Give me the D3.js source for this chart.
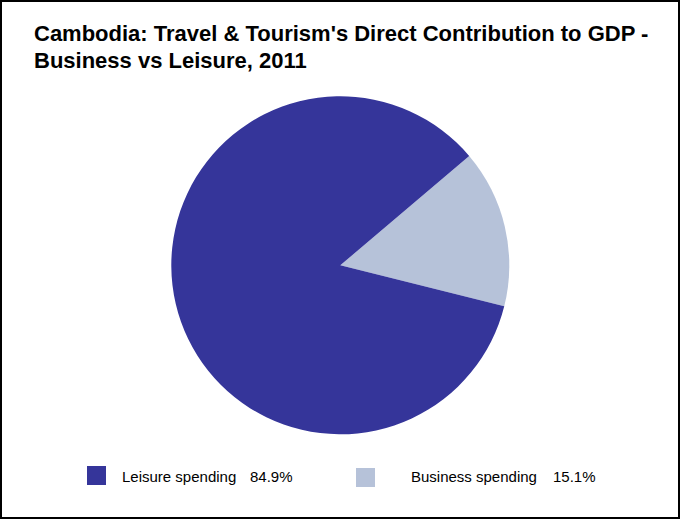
<!DOCTYPE html>
<html>
<head>
<meta charset="utf-8">
<script src="https://cdn.jsdelivr.net/npm/d3@7/dist/d3.min.js"></script>
<style>
  html, body { margin: 0; padding: 0; background: #fff; }
  svg { display: block; }
</style>
</head>
<body>
<svg id="chart" width="681" height="520"></svg>
<script>
// Spending split of the direct contribution, 2011 (%)
const categories = ["Business spending", "Leisure spending"];
const shares = [15.1, 84.9];
const colors = ["#b6c2d9", "#35359a"];
const legendOrder = ["Leisure spending", "Business spending"];
const titleLines = [
  "Cambodia: Travel & Tourism's Direct Contribution to GDP -",
  "Business vs Leisure, 2011"
];

const W = 681, H = 520;
const FONT = "Liberation Sans, Arial, sans-serif";
const svg = d3.select("#chart");

// frame
svg.append("rect")
  .attr("x", 1).attr("y", 1)
  .attr("width", W - 3).attr("height", H - 3)
  .attr("fill", "#fff")
  .attr("stroke", "#000")
  .attr("stroke-width", 2);

// title
svg.append("g").selectAll("text")
  .data(titleLines)
  .join("text")
  .attr("x", 34)
  .attr("y", (d, i) => 41 + i * 27)
  .attr("font-family", FONT)
  .attr("font-size", 22)
  .attr("font-weight", "bold")
  .attr("fill", "#000")
  .text(d => d);

// pie
const cx = 340.3, cy = 265.3, r = 169;
const start = 49.7 * Math.PI / 180;
const data = categories.map((c, i) => ({ name: c, value: shares[i], color: colors[i] }));
const pie = d3.pie().sort(null).value(d => d.value)
  .startAngle(start).endAngle(start + 2 * Math.PI);
const arc = d3.arc().innerRadius(0).outerRadius(r);

svg.append("g")
  .attr("transform", `translate(${cx},${cy})`)
  .selectAll("path")
  .data(pie(data))
  .join("path")
  .attr("d", arc)
  .attr("fill", d => d.data.color);

// legend
const swatchX = d3.scaleOrdinal().domain(legendOrder).range([87, 356]);
const swatchY = d3.scaleOrdinal().domain(legendOrder).range([466, 468]);
const labelX = d3.scaleOrdinal().domain(legendOrder).range([122, 411]);
const valueX = d3.scaleOrdinal().domain(legendOrder).range([250, 553]);
const byName = new Map(data.map(d => [d.name, d]));
const lg = svg.append("g").selectAll("g")
  .data(legendOrder.map(n => byName.get(n)))
  .join("g");

lg.append("rect")
  .attr("x", d => swatchX(d.name))
  .attr("y", d => swatchY(d.name))
  .attr("width", 19).attr("height", 19)
  .attr("fill", d => d.color);

lg.append("text")
  .attr("x", d => labelX(d.name))
  .attr("y", 482)
  .attr("font-family", FONT)
  .attr("font-size", 15)
  .attr("fill", "#000")
  .text(d => d.name);

lg.append("text")
  .attr("x", d => valueX(d.name))
  .attr("y", 482)
  .attr("font-family", FONT)
  .attr("font-size", 15)
  .attr("fill", "#000")
  .text(d => d3.format(".1f")(d.value) + "%");
</script>
</body>
</html>
